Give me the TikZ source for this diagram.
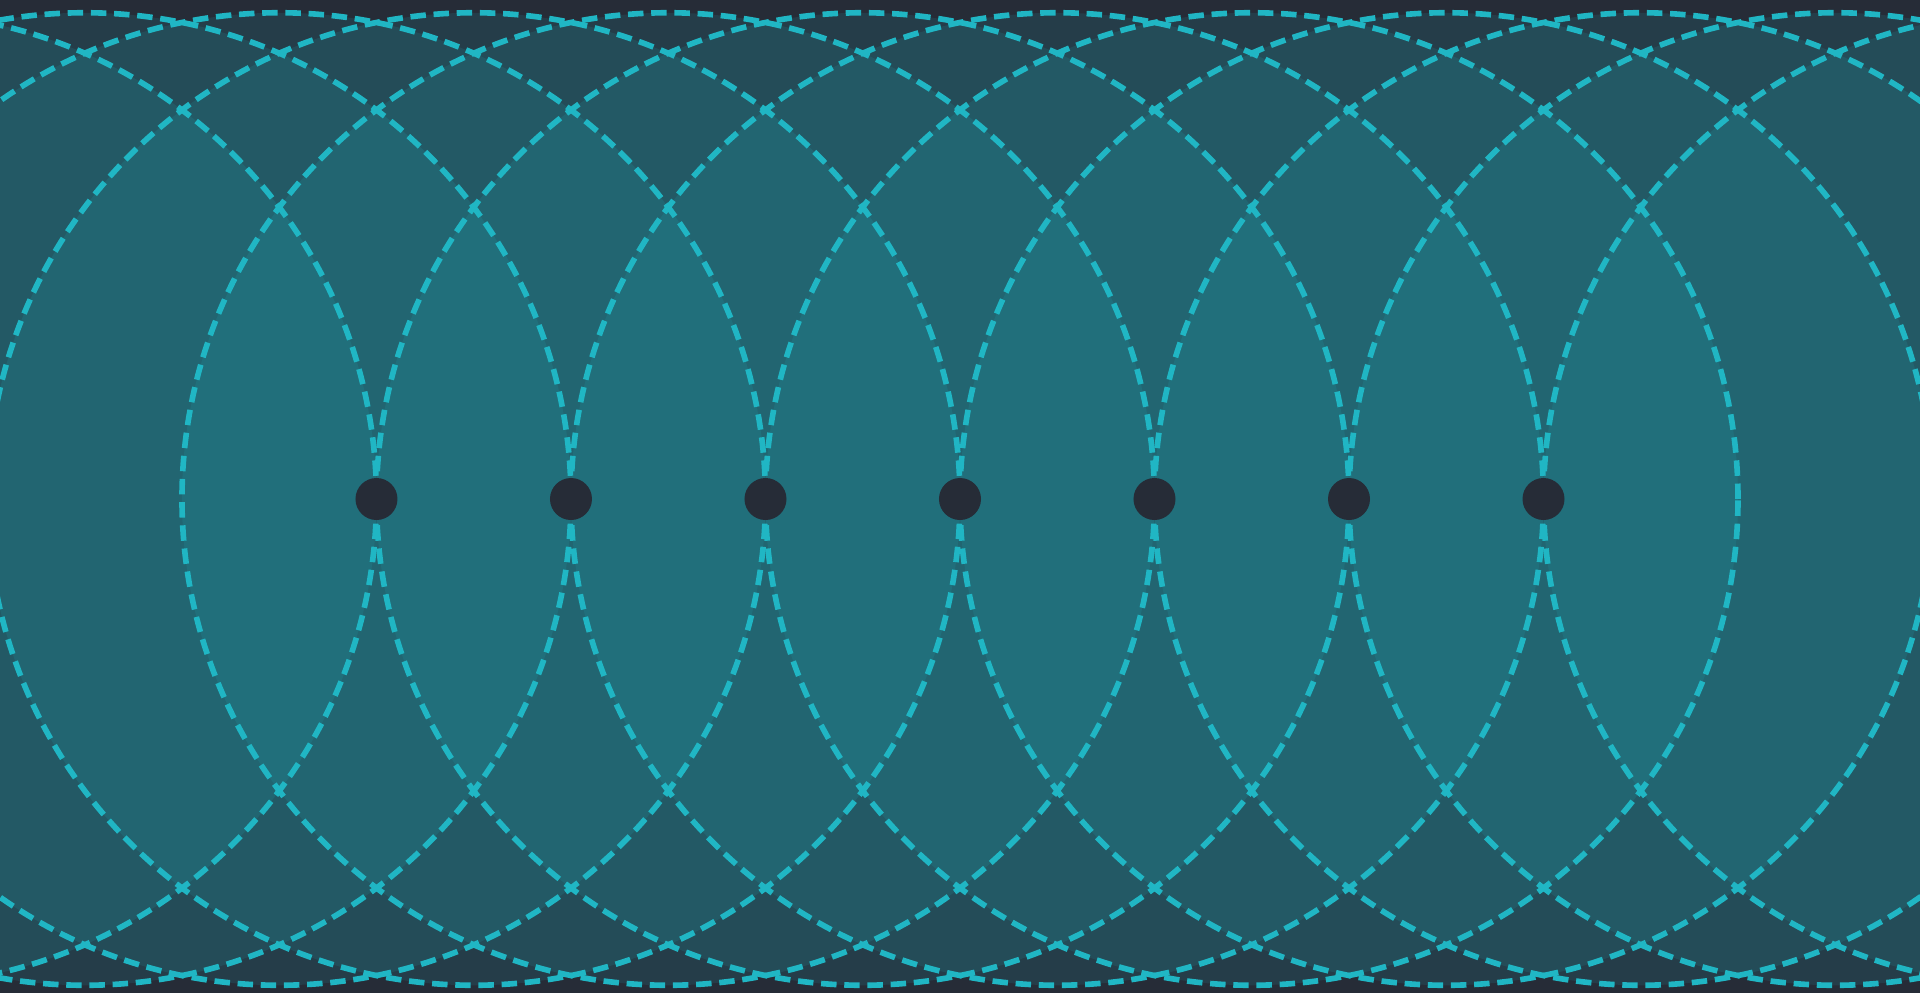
\documentclass[tikz,border=0pt]{standalone}
\usepackage{tikz}
\definecolor{slatebg}{HTML}{262C37}
\definecolor{ringcyan}{HTML}{20B6C4}
\begin{document}
\begin{tikzpicture}[scale=1.945,
    ringfill/.style={fill=ringcyan, fill opacity=0.13},
    ring/.style={draw=ringcyan, line width=1.6pt, dash pattern=on 4.4pt off 2.2pt},
    source/.style={fill=slatebg}]
          % background
          \fill[slatebg] (-4.9357,-2.5398) rectangle (4.9357,2.5656);
          \clip (-4.9357,-2.5398) rectangle (4.9357,2.5656);

          % circle fills
          \fill[ringfill] (-5.5,0) circle (2.5);
          \fill[ringfill] (-4.5,0) circle (2.5);
          \fill[ringfill] (-3.5,0) circle (2.5);
          \fill[ringfill] (-2.5,0) circle (2.5);
          \fill[ringfill] (-1.5,0) circle (2.5);
          \fill[ringfill] (-0.5,0) circle (2.5);
          \fill[ringfill] (0.5,0) circle (2.5);
          \fill[ringfill] (1.5,0) circle (2.5);
          \fill[ringfill] (2.5,0) circle (2.5);
          \fill[ringfill] (3.5,0) circle (2.5);
          \fill[ringfill] (4.5,0) circle (2.5);
          \fill[ringfill] (5.5,0) circle (2.5);

          % circle outlines
          \draw[ring] (-5.5,0) circle (2.5);
          \draw[ring] (-4.5,0) circle (2.5);
          \draw[ring] (-3.5,0) circle (2.5);
          \draw[ring] (-2.5,0) circle (2.5);
          \draw[ring] (-1.5,0) circle (2.5);
          \draw[ring] (-0.5,0) circle (2.5);
          \draw[ring] (0.5,0) circle (2.5);
          \draw[ring] (1.5,0) circle (2.5);
          \draw[ring] (2.5,0) circle (2.5);
          \draw[ring] (3.5,0) circle (2.5);
          \draw[ring] (4.5,0) circle (2.5);
          \draw[ring] (5.5,0) circle (2.5);

          % Mark points
          \fill[source] (-3,0) circle (0.108);
          \fill[source] (-2,0) circle (0.108);
          \fill[source] (-1,0) circle (0.108);
          \fill[source] (0,0) circle (0.108);
          \fill[source] (1,0) circle (0.108);
          \fill[source] (2,0) circle (0.108);
          \fill[source] (3,0) circle (0.108);
        \end{tikzpicture}
\end{document}
